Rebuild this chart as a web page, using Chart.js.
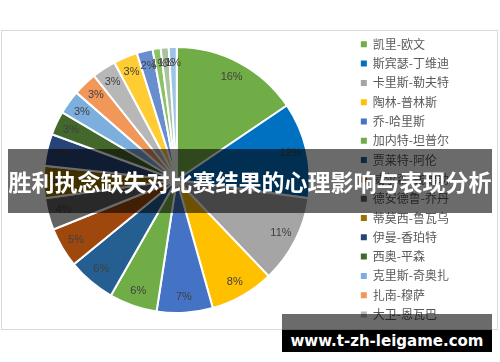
<!DOCTYPE html>
<html>
<head>
<meta charset="utf-8">
<script src="https://cdn.jsdelivr.net/npm/chart.js@4"></script>
<style>
  body { margin: 0; background: #fff; }
  #wrap { position: relative; width: 500px; height: 362px; overflow: hidden; }
  #frame { position: absolute; left: 1px; top: 30px; width: 495px; height: 298px; border: 1px solid #d9d9d9; }
  canvas { position: absolute; left: 0; top: 0; }
  #banner {
    position: absolute; left: 8px; top: 149px; width: 484px; height: 64px;
    background: rgba(0, 0, 0, 0.58); color: #fff;
    font: bold 23px "Noto Sans CJK SC", sans-serif;
    line-height: 64px; text-align: center; white-space: nowrap;
  }
  #mark-top { position: absolute; left: 282px; top: 314px; width: 210px; height: 16px; background: rgba(0, 0, 0, 0.58); }
  #mark {
    position: absolute; left: 282px; top: 330px; width: 210px; height: 22px;
    background: #000; color: #fff; font: bold 15px "DejaVu Sans", sans-serif;
    line-height: 22px; text-align: center; white-space: nowrap;
  }
</style>
</head>
<body>
<div id="wrap">
  <div id="frame"></div>
  <canvas id="grafico" width="500" height="362"></canvas>
  <div id="banner">胜利执念缺失对比赛结果的心理影响与表现分析</div>
  <div id="mark-top"></div>
  <div id="mark">www.t-zh-leigame.com</div>
</div>
<script>
// Dados do gráfico
const jogadores = [
  "凯里-欧文", "斯宾瑟-丁维迪", "卡里斯-勒夫特", "陶林-普林斯", "乔-哈里斯",
  "加内特-坦普尔", "贾莱特-阿伦", "威尔森-钱德勒", "德安德鲁-乔丹", "蒂莫西-鲁瓦乌",
  "伊曼-香珀特", "西奥-平森", "克里斯-奇奥扎", "扎南-穆萨", "大卫-恩瓦巴",
  "罗迪恩斯-库鲁茨", "贾斯汀-安德森", "亨利-埃伦森", "杰里米亚-马丁", "尼克-克拉克斯顿"
];
const percentuais = [16, 12, 11, 8, 7, 6, 6, 5, 4, 4, 4, 3, 3, 3, 3, 3, 2, 1, 1, 1];
const cores = [
  "#70AD47", "#0070C0", "#A5A5A5", "#FFC000", "#4472C4",
  "#70AD47", "#255E91", "#9E480E", "#636363", "#997300",
  "#264478", "#43682B", "#7CAFDD", "#F1975A", "#B7B7B7",
  "#FFCD33", "#698ED0", "#8CC168", "#A9C3A0", "#9DC3E6"
];

// Rótulos de porcentagem dentro das fatias
const rotulosPlugin = {
  id: "rotulos",
  afterDatasetsDraw(chart) {
    const ctx = chart.ctx;
    const meta = chart.getDatasetMeta(0);
    ctx.save();
    ctx.font = "11px 'Liberation Sans', sans-serif";
    ctx.fillStyle = "#404040";
    ctx.textAlign = "center";
    ctx.textBaseline = "middle";
    meta.data.forEach((arc, i) => {
      const p = arc.getProps(["x", "y", "startAngle", "endAngle", "outerRadius"], true);
      const meio = (p.startAngle + p.endAngle) / 2;
      const r = p.outerRadius * 0.88;
      ctx.fillText(percentuais[i] + "%", p.x + Math.cos(meio) * r, p.y + Math.sin(meio) * r);
    });
    ctx.restore();
  }
};

const ctx = document.getElementById("grafico").getContext("2d");
new Chart(ctx, {
  type: "pie",
  data: {
    labels: jogadores,
    datasets: [{
      data: percentuais,
      backgroundColor: cores,
      borderColor: "#ffffff",
      borderWidth: 2,
      radius: 133
    }]
  },
  options: {
    responsive: false,
    animation: false,
    layout: { padding: { left: 0, top: 31, bottom: 33, right: 41 } },
    plugins: {
      tooltip: { enabled: false },
      legend: {
        position: "right",
        align: "start",
        labels: {
          boxWidth: 6,
          boxHeight: 6,
          padding: 7.3,
          color: "#595959",
          font: { size: 12, family: "'Noto Sans CJK SC', sans-serif" },
          generateLabels: chart => Chart.overrides.pie.plugins.legend.labels.generateLabels(chart)
            .map(l => ({ ...l, lineWidth: 0, strokeStyle: "rgba(0,0,0,0)" })),
          filter: item => item.index < 15
        }
      }
    }
  },
  plugins: [rotulosPlugin]
});
</script>
</body>
</html>
